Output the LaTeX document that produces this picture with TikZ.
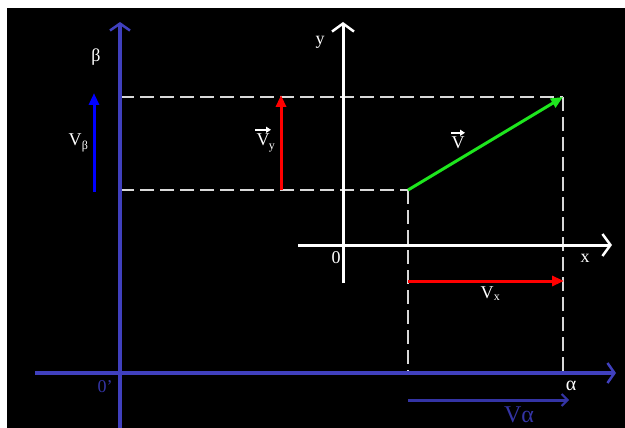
\documentclass[tikz,border=0pt]{standalone}
\usepackage{fontspec}
\setmainfont{Liberation Serif}
\usetikzlibrary{arrows.meta}
\definecolor{axblue}{RGB}{64,64,190}
\definecolor{valpha}{RGB}{52,52,165}
\definecolor{vgreen}{RGB}{30,230,30}
\tikzset{
  blueaxis/.style={draw=axblue,line width=4pt,-{Straight Barb[length=7pt,width=20pt,line width=2.5pt]}},
  whiteaxis/.style={draw=white,line width=3pt,-{Straight Barb[length=8pt,width=22pt,line width=2.5pt]}},
  guide/.style={draw=white!85!black,line width=1.3pt,dash pattern=on 14pt off 6pt},
  vecarrow/.style={line width=3pt,-{Triangle[length=12pt,width=10pt]}},
  lbl/.style={text=white,font=\fontsize{18}{18}\selectfont,inner sep=0pt},
  sub/.style={text=white,font=\fontsize{12}{12}\selectfont,inner sep=0pt},
  overarrow/.style={draw=white,line width=2pt,-{Triangle[length=5pt,width=6pt]}}
}
\begin{document}
\begin{tikzpicture}[x=1pt,y=-1pt]
\useasboundingbox (0,0) rectangle (625,428);
\fill[white] (0,0) rectangle (625,428);
\fill[black] (7,8) rectangle (625,428);
% coordinates
\coordinate (bS) at (120,430);
\coordinate (bE) at (120,22);
\coordinate (aS) at (35,373);
\coordinate (aE) at (616,373);
\coordinate (yS) at (343,283);
\coordinate (yE) at (343,22);
\coordinate (xS) at (298,245);
\coordinate (xE) at (612,245);
\coordinate (P) at (408,190);
\coordinate (Q) at (563,97);
\coordinate (Ltop) at (120,97);
\coordinate (Lbot) at (120,190);
\coordinate (Pa) at (408,373);
\coordinate (Qa) at (563,373);
\coordinate (vyS) at (281,190);
\coordinate (vyE) at (281,95);
\coordinate (vbS) at (94,192);
\coordinate (vbE) at (94,93);
\coordinate (vxS) at (408,281);
\coordinate (vxE) at (564,281);
\coordinate (vaS) at (408,400);
\coordinate (vaE) at (569,400);
% guides
\draw[guide] (Ltop) -- (Q);
\draw[guide] (Lbot) -- (P);
\draw[guide] (P) -- (Pa);
\draw[guide] (Q) -- (Qa);
% axes
\draw[blueaxis] (bS) -- (bE);
\draw[blueaxis] (aS) -- (aE);
\draw[whiteaxis] (yS) -- (yE);
\draw[whiteaxis] (xS) -- (xE);
% vectors
\draw[vecarrow,draw=vgreen,fill=vgreen] (P) -- (Q);
\draw[vecarrow,draw=red,fill=red] (vyS) -- (vyE);
\draw[vecarrow,draw=red,fill=red] (vxS) -- (vxE);
\draw[vecarrow,draw=blue,fill=blue] (vbS) -- (vbE);
\draw[line width=3pt,draw=valpha,-{Straight Barb[length=6pt,width=12pt,line width=2pt]}] (vaS) -- (vaE);
% labels
\node[lbl] (beta) at (96,57) {β};
\node[lbl] (vb) at (75,140) {V};
\node[sub,anchor=base west] (vbsub) at ([xshift=0pt,yshift=-4pt]vb.base east) {β};
\node[lbl] (vy) at (263,140) {V};
\node[sub,anchor=base west] (vysub) at ([xshift=-1pt,yshift=-4pt]vy.base east) {y};
\draw[overarrow] ([xshift=-8pt,yshift=4pt]vy.north) -- ([xshift=8pt,yshift=4pt]vy.north);
\node[lbl] (ylab) at (320,42) {y};
\node[lbl] (vlab) at (458,143) {V};
\draw[overarrow] ([xshift=-7pt,yshift=4pt]vlab.north) -- ([xshift=7pt,yshift=4pt]vlab.north);
\node[lbl] (zero) at (336,258) {0};
\node[lbl] (xlab) at (585,258) {x};
\node[lbl] (vx) at (487,293) {V};
\node[sub,anchor=base west] (vxsub) at ([xshift=0pt,yshift=-2pt]vx.base east) {x};
\node[lbl,text=valpha] (zerop) at (105,387) {0'};
\node[lbl,font=\fontsize{20}{20}\selectfont] (alab) at (571,386) {α};
\node[lbl,text=valpha,font=\fontsize{24}{24}\selectfont] (valab) at (519,415) {Vα};
\end{tikzpicture}
\end{document}
